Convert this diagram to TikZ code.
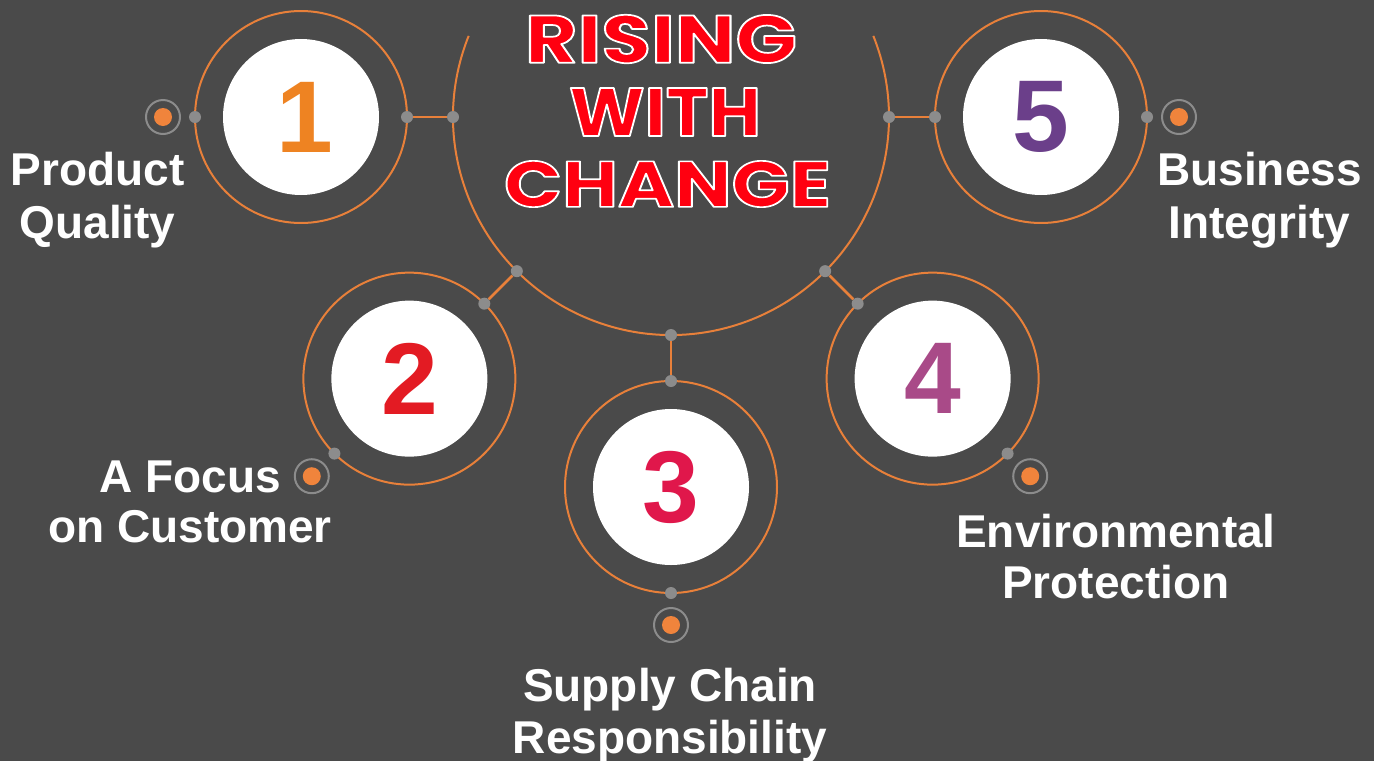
\documentclass[tikz,border=0pt]{standalone}
\usepackage{fontspec}
\setmainfont{Liberation Sans}
\newfontfamily\titlefont{Poppins}
\usetikzlibrary{calc}
\definecolor{bg}{HTML}{4A4A4A}
\definecolor{ringor}{HTML}{E8803A}
\definecolor{dotgray}{HTML}{8C8C8C}
\definecolor{lblor}{HTML}{F0843C}
\definecolor{colone}{HTML}{EE8322}
\definecolor{coltwo}{HTML}{E31B23}
\definecolor{colthree}{HTML}{E0174B}
\definecolor{colfour}{HTML}{A94A88}
\definecolor{colfive}{HTML}{6B3F8A}
\definecolor{titlered}{HTML}{FF0010}
\newcommand\outlinedtitle[3]{%
  \resizebox{#1pt}{#2pt}{\titlefont\bfseries\fontsize{67}{67}\selectfont\color{titlered}%
  \special{pdf:literal direct 2 Tr 1 1 1 RG 1.7 w 1 j}#3\special{pdf:literal direct 0 Tr 1 w 0 j}}}
\begin{document}
\begin{tikzpicture}[x=1pt,y=-1pt,
  ringc/.style={circle,draw=ringor,line width=2pt,minimum size=212pt,inner sep=0pt},
  conn/.style={draw=ringor,line width=2.5pt},
  gdot/.style={circle,fill=dotgray,minimum size=12pt,inner sep=0pt},
  disc/.style={circle,fill=white,minimum size=156pt,inner sep=0pt,font=\bfseries\fontsize{102}{102}\selectfont},
  lblring/.style={circle,draw=dotgray,line width=2pt,minimum size=34pt,inner sep=0pt},
  lbldot/.style={circle,fill=lblor,minimum size=18pt,inner sep=0pt},
  lbl/.style={anchor=base,inner sep=0pt,text=white,font=\bfseries\fontsize{46}{50}\selectfont},
  ttl/.style={inner sep=0pt}]
\fill[bg] (0,0) rectangle (1374,761);
\useasboundingbox (0,0) rectangle (1374,761);
\coordinate (C) at (671,117);
% big arc
\draw[ringor,line width=2pt] ($(C)+(201.85:218)$) arc[start angle=201.85,end angle=-21.85,radius=218];
% rings, dots, connectors, label markers
\foreach \i/\ang in {1/180,2/135,3/90,4/45,5/0}{
  \node[ringc] (ring\i) at ($(C)+(\ang:370)$) {};
  \node[gdot] (arcdot\i) at ($(C)+(\ang:218)$) {};
  \node[gdot] (indot\i) at ($(C)+(\ang:264)$) {};
  \node[gdot] (outdot\i) at ($(C)+(\ang:476)$) {};
  \node[lblring] (lr\i) at ($(C)+(\ang:508)$) {};
  \node[lbldot] (ld\i) at (lr\i) {};
  \draw[conn] (arcdot\i) -- (indot\i);
}
% discs with numbers
\node[disc,text=colone] (n1) at (ring1.center) {\hspace*{7pt}1};
\node[disc,text=coltwo] (n2) at (ring2.center) {2};
\node[disc,text=colthree] (n3) at (ring3.center) {3};
\node[disc,text=colfour] (n4) at (ring4.center) {4};
\node[disc,text=colfive] (n5) at (ring5.center) {5};
% labels
\node[lbl] (t1a) at (97.5,185) {Product};
\node[lbl] (t1b) at (97.5,238) {Quality};
\node[lbl] (t2a) at (190,492) {A Focus};
\node[lbl] (t2b) at (190,542) {on Customer};
\node[lbl] (t3a) at (670,701) {Supply Chain};
\node[lbl] (t3b) at (670,753) {Responsibility};
\node[lbl] (t4a) at (1116,547) {Environmental};
\node[lbl] (t4b) at (1116,598) {Protection};
\node[lbl] (t5a) at (1259.5,185) {Business};
\node[lbl] (t5b) at (1259.5,238) {Integrity};
% title
\node[ttl] (ta) at (661,39) {\outlinedtitle{272}{48}{RISING}};
\node[ttl] (tb) at (665,112) {\outlinedtitle{192}{48}{WITH}};
\node[ttl] (tc) at (667.5,184) {\outlinedtitle{327}{46}{CHANGE}};
\end{tikzpicture}
\end{document}
